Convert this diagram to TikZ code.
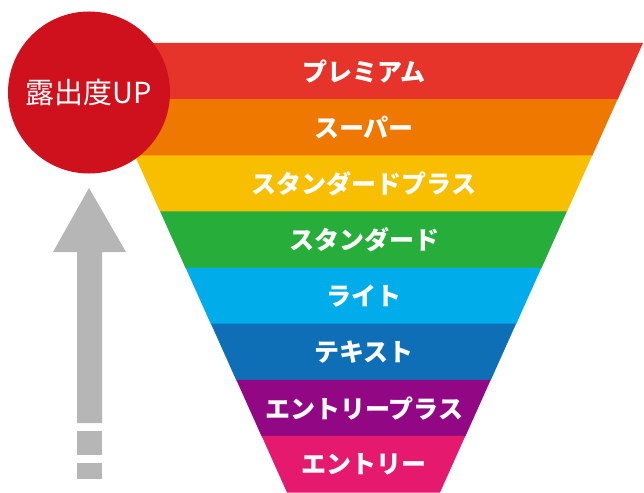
\documentclass[tikz,border=0pt]{standalone}
\usepackage{fontspec}
\newfontfamily\jpfont{Noto Sans CJK JP}
\definecolor{cpremium}{HTML}{E7342A}
\definecolor{csuper}{HTML}{EE7800}
\definecolor{cstdplus}{HTML}{F8BE00}
\definecolor{cstandard}{HTML}{27AD3A}
\definecolor{clite}{HTML}{00ADEA}
\definecolor{ctext}{HTML}{0E6FB7}
\definecolor{centplus}{HTML}{920783}
\definecolor{centry}{HTML}{E5196E}
\definecolor{cbadge}{HTML}{CF111D}
\definecolor{cgray}{HTML}{B5B6B5}
\tikzset{
  band label/.style={text=white,font=\jpfont\bfseries\fontsize{25}{25}\selectfont,inner sep=0pt},
  up badge/.style={circle,fill=cbadge,minimum size=162pt,inner sep=0pt,text=white,font=\jpfont\fontsize{29}{29}\selectfont},
}
\begin{document}
\begin{tikzpicture}[x=1pt,y=-1pt]
\useasboundingbox (0,0) rectangle (644,492);

%funnel%%%%%%%%%%%%%%%%%%%%%%%%%%%%%%%%%%%%%%%%%%%%%%%%%%%%%%%%%%%%%%%%

\foreach \col/\lab [count=\i from 0] in {cpremium/プレミアム,csuper/スーパー,cstdplus/スタンダードプラス,cstandard/スタンダード,clite/ライト,ctext/テキスト,centplus/エントリープラス,centry/エントリー}{
  \pgfmathsetmacro\ytop{43+56.125*\i}
  \pgfmathsetmacro\ybot{\ytop+56.125}
  \pgfmathsetmacro\wtop{279.5-0.45212*(\ytop-43)}
  \pgfmathsetmacro\wbot{279.5-0.45212*(\ybot-43)}
  \fill[\col] (363.5-\wtop,\ytop) -- (363.5+\wtop,\ytop) -- (363.5+\wbot,\ybot+0.5) -- (363.5-\wbot,\ybot+0.5) -- cycle;
  \node[band label] (lab\i) at (364,\ytop+28.5) {\lab};
}

%badge%%%%%%%%%%%%%%%%%%%%%%%%%%%%%%%%%%%%%%%%%%%%%%%%%%%%%%%%%%%%%%%%%

\node[up badge] (badge) at (89,92.5) {露出度UP};

%arrow%%%%%%%%%%%%%%%%%%%%%%%%%%%%%%%%%%%%%%%%%%%%%%%%%%%%%%%%%%%%%%%%%

\fill[cgray] (89,188) -- (126,252) -- (102,252) -- (102,423) -- (77,423) -- (77,252) -- (53,252) -- cycle; %head and shaft
\fill[cgray] (77,431) rectangle (102,455); %dash
\fill[cgray] (77,463) rectangle (102,479); %dash

\end{tikzpicture}
\end{document}
